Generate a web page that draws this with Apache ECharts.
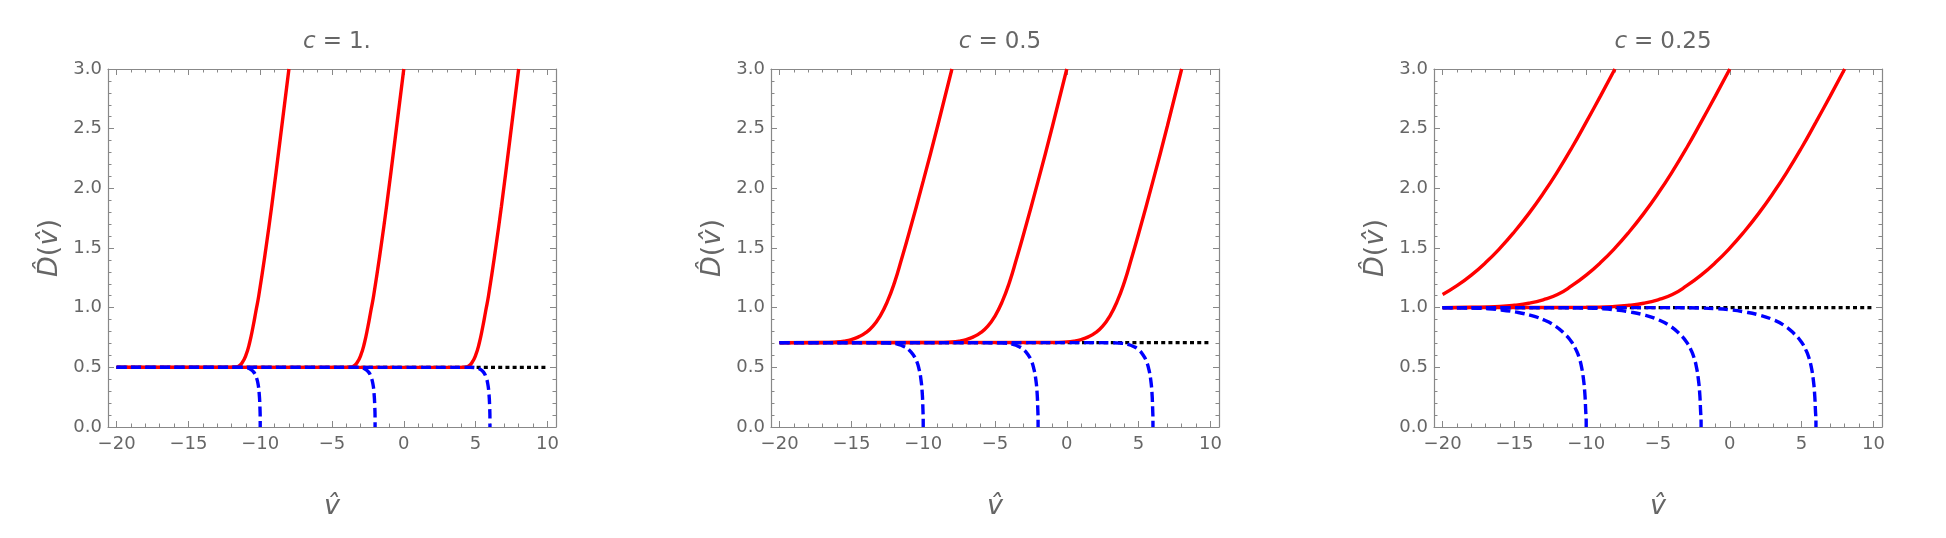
<!DOCTYPE html>
<html>
<head>
<meta charset="utf-8">
<script src="https://cdn.jsdelivr.net/npm/echarts@6/dist/echarts.min.js"></script>
<style>
  html, body { margin: 0; padding: 0; background: #fff; }
  #main { width: 1946px; height: 538px; }
</style>
</head>
<body>
<div id="main"></div>
<script>
// tick values
var xMajor = [-20, -15, -10, -5, 0, 5, 10]
var xMinor = [-20, -19, -18, -17, -16, -15, -14, -13, -12, -11, -10, -9, -8, -7, -6, -5, -4, -3, -2, -1,
  0, 1, 2, 3, 4, 5, 6, 7, 8, 9, 10]
var yMajor = [0, 0.5, 1, 1.5, 2, 2.5, 3]
var yMinor = [0, 0.1, 0.2, 0.3, 0.4, 0.5, 0.6, 0.7, 0.8, 0.9, 1, 1.1, 1.2, 1.3, 1.4, 1.5, 1.6, 1.7, 1.8, 1.9,
  2, 2.1, 2.2, 2.3, 2.4, 2.5, 2.6, 2.7, 2.8, 2.9, 3]

var cLabels = ["1.", "0.5", "0.25"]
var baseLevel = [0.5, 0.707, 1.0]

// c = 1.
var red1A = [[-20, 0.5], [-16, 0.5], [-12.2, 0.5], [-11.8, 0.501], [-11.5, 0.51], [-11.25, 0.54], [-11.0, 0.6], [-10.75, 0.7], [-10.5, 0.84], [-10.3, 0.97], [-10.1, 1.1], [-9.6, 1.5], [-9.2, 1.85], [-8.6, 2.42], [-8, 3.0]]
var red2A = [[-20, 0.5], [-8, 0.5], [-4.2, 0.5], [-3.8, 0.501], [-3.5, 0.51], [-3.25, 0.54], [-3.0, 0.6], [-2.75, 0.7], [-2.5, 0.84], [-2.3, 0.97], [-2.1, 1.1], [-1.6, 1.5], [-1.2, 1.85], [-0.6, 2.42], [0, 3.0]]
var red3A = [[-20, 0.5], [0, 0.5], [3.8, 0.5], [4.2, 0.501], [4.5, 0.51], [4.75, 0.54], [5.0, 0.6], [5.25, 0.7], [5.5, 0.84], [5.7, 0.97], [5.9, 1.1], [6.4, 1.5], [6.8, 1.85], [7.4, 2.42], [8, 3.0]]
var blue1A = [[-20, 0.5], [-14, 0.5], [-11.4, 0.5], [-11.0, 0.497], [-10.7, 0.485], [-10.45, 0.46], [-10.28, 0.42], [-10.15, 0.36], [-10.07, 0.28], [-10.02, 0.17], [-10.0, 0.05], [-10, 0]]
var blue2A = [[-20, 0.5], [-6, 0.5], [-3.4, 0.5], [-3.0, 0.497], [-2.7, 0.485], [-2.45, 0.46], [-2.28, 0.42], [-2.15, 0.36], [-2.07, 0.28], [-2.02, 0.17], [-2.0, 0.05], [-2, 0]]
var blue3A = [[-20, 0.5], [2, 0.5], [4.6, 0.5], [5.0, 0.497], [5.3, 0.485], [5.55, 0.46], [5.72, 0.42], [5.85, 0.36], [5.93, 0.28], [5.98, 0.17], [6.0, 0.05], [6, 0]]

// c = 0.5
var red1B = [[-20, 0.707], [-17, 0.708], [-16, 0.713], [-15.5, 0.72], [-15, 0.733], [-14.5, 0.755], [-14, 0.79], [-13.5, 0.845], [-13, 0.93], [-12.5, 1.05], [-12, 1.21], [-11.5, 1.41], [-11, 1.62], [-10, 2.06], [-9, 2.52], [-8, 3.0]]
var red2B = [[-20, 0.707], [-9, 0.708], [-8, 0.713], [-7.5, 0.72], [-7, 0.733], [-6.5, 0.755], [-6, 0.79], [-5.5, 0.845], [-5, 0.93], [-4.5, 1.05], [-4, 1.21], [-3.5, 1.41], [-3, 1.62], [-2, 2.06], [-1, 2.52], [0, 3.0]]
var red3B = [[-20, 0.707], [-1, 0.708], [0, 0.713], [0.5, 0.72], [1, 0.733], [1.5, 0.755], [2, 0.79], [2.5, 0.845], [3, 0.93], [3.5, 1.05], [4, 1.21], [4.5, 1.41], [5, 1.62], [6, 2.06], [7, 2.52], [8, 3.0]]
var blue1B = [[-20, 0.707], [-14, 0.707], [-13, 0.706], [-12.3, 0.703], [-11.75, 0.693], [-11.3, 0.672], [-11.0, 0.648], [-10.7, 0.605], [-10.45, 0.55], [-10.28, 0.48], [-10.16, 0.4], [-10.07, 0.29], [-10.02, 0.15], [-10, 0.04], [-10, 0]]
var blue2B = [[-20, 0.707], [-6, 0.707], [-5, 0.706], [-4.3, 0.703], [-3.75, 0.693], [-3.3, 0.672], [-3.0, 0.648], [-2.7, 0.605], [-2.45, 0.55], [-2.28, 0.48], [-2.16, 0.4], [-2.07, 0.29], [-2.02, 0.15], [-2, 0.04], [-2, 0]]
var blue3B = [[-20, 0.707], [2, 0.707], [3, 0.706], [3.7, 0.703], [4.25, 0.693], [4.7, 0.672], [5.0, 0.648], [5.3, 0.605], [5.55, 0.55], [5.72, 0.48], [5.84, 0.4], [5.93, 0.29], [5.98, 0.15], [6, 0.04], [6, 0]]

// c = 0.25
var red1C = [[-20, 1.11], [-19, 1.184], [-18, 1.273], [-17, 1.378], [-16, 1.499], [-15, 1.636], [-14, 1.788], [-13, 1.956], [-12, 2.14], [-11, 2.34], [-10, 2.555], [-9, 2.775], [-8, 3.0]]
var red2C = [[-20, 1.0], [-18, 1.003], [-16, 1.01], [-15, 1.02], [-14, 1.037], [-13, 1.066], [-12, 1.11], [-11, 1.184], [-10, 1.273], [-9, 1.378], [-8, 1.499], [-7, 1.636], [-6, 1.788], [-5, 1.956], [-4, 2.14], [-3, 2.34], [-2, 2.555], [-1, 2.775], [0, 3.0]]
var red3C = [[-20, 1.0], [-14, 1.001], [-10, 1.003], [-8, 1.01], [-7, 1.02], [-6, 1.037], [-5, 1.066], [-4, 1.11], [-3, 1.184], [-2, 1.273], [-1, 1.378], [0, 1.499], [1, 1.636], [2, 1.788], [3, 1.956], [4, 2.14], [5, 2.34], [6, 2.555], [7, 2.775], [8, 3.0]]
var blue1C = [[-20, 1.0], [-18, 0.997], [-17, 0.992], [-16, 0.982], [-15, 0.965], [-14, 0.94], [-13, 0.9], [-12.2, 0.85], [-11.5, 0.78], [-11, 0.71], [-10.7, 0.645], [-10.5, 0.585], [-10.32, 0.5], [-10.2, 0.41], [-10.1, 0.29], [-10.04, 0.15], [-10, 0.03], [-10, 0]]
var blue2C = [[-20, 1.0], [-12, 1.0], [-10, 0.997], [-9, 0.992], [-8, 0.982], [-7, 0.965], [-6, 0.94], [-5, 0.9], [-4.2, 0.85], [-3.5, 0.78], [-3, 0.71], [-2.7, 0.645], [-2.5, 0.585], [-2.32, 0.5], [-2.2, 0.41], [-2.1, 0.29], [-2.04, 0.15], [-2, 0.03], [-2, 0]]
var blue3C = [[-20, 1.0], [-4, 1.0], [-2, 0.997], [-1, 0.992], [0, 0.982], [1, 0.965], [2, 0.94], [3, 0.9], [3.8, 0.85], [4.5, 0.78], [5, 0.71], [5.3, 0.645], [5.5, 0.585], [5.68, 0.5], [5.8, 0.41], [5.9, 0.29], [5.96, 0.15], [6, 0.03], [6, 0]]

var redCurves = [[red1A, red2A, red3A], [red1B, red2B, red3B], [red1C, red2C, red3C]]
var blueCurves = [[blue1A, blue2A, blue3A], [blue1B, blue2B, blue3B], [blue1C, blue2C, blue3C]]

var chartDom = document.getElementById("main")
var myChart = echarts.init(chartDom)
var option

var font = "DejaVu Sans"
var frameColor = "#888"
var textColor = "#666"
var gridLefts = [108, 771, 1434]
var gridWidth = 448

function minus(v) {
  return String(v).replace("-", "\u2212")
}

var grids = [], xAxes = [], yAxes = [], titles = [], series = []

for (var i = 0; i < 3; i++) {
  grids.push({ left: gridLefts[i], top: 69, width: gridWidth, height: 358 })
  titles.push({
    text: "{i|c}{op|=}" + cLabels[i],
    left: gridLefts[i] + gridWidth / 2,
    top: 26,
    textAlign: "center",
    textStyle: {
      fontFamily: font, fontSize: 23, fontWeight: "normal", color: textColor,
      rich: {
        i: { fontFamily: font, fontSize: 23, fontStyle: "italic", color: textColor },
        op: { fontFamily: font, fontSize: 23, color: textColor, padding: [0, 7, 0, 7] }
      }
    }
  })

  var xBase = { gridIndex: i, type: "value", min: -20.6, max: 10.6, splitLine: { show: false } }
  // bottom frame, with labels
  xAxes.push(Object.assign({}, xBase, {
    position: "bottom",
    name: "{i|v\u0302}",
    nameLocation: "middle",
    nameGap: 66,
    nameTextStyle: {
      fontFamily: font, fontSize: 27, color: textColor,
      rich: { i: { fontFamily: font, fontSize: 27, fontStyle: "italic", color: textColor } }
    },
    axisLine: { show: true, onZero: false, lineStyle: { color: frameColor, width: 1.2 } },
    axisTick: { show: true, inside: true, length: 6, customValues: xMajor, lineStyle: { color: frameColor, width: 1 } },
    axisLabel: { show: true, customValues: xMajor, margin: 8, fontFamily: font, fontSize: 18, color: textColor, formatter: minus }
  }))
  xAxes.push(Object.assign({}, xBase, {
    position: "bottom",
    axisLine: { show: false, onZero: false },
    axisTick: { show: true, inside: true, length: 3.5, customValues: xMinor, lineStyle: { color: frameColor, width: 1 } },
    axisLabel: { show: false }
  }))
  // top frame
  xAxes.push(Object.assign({}, xBase, {
    position: "top",
    axisLine: { show: true, onZero: false, lineStyle: { color: frameColor, width: 1.2 } },
    axisTick: { show: true, inside: true, length: 6, customValues: xMajor, lineStyle: { color: frameColor, width: 1 } },
    axisLabel: { show: false }
  }))
  xAxes.push(Object.assign({}, xBase, {
    position: "top",
    axisLine: { show: false, onZero: false },
    axisTick: { show: true, inside: true, length: 3.5, customValues: xMinor, lineStyle: { color: frameColor, width: 1 } },
    axisLabel: { show: false }
  }))

  var yBase = { gridIndex: i, type: "value", min: 0, max: 3, splitLine: { show: false } }
  yAxes.push(Object.assign({}, yBase, {
    position: "left",
    name: "{i|D\u0302}({i|v\u0302})",
    nameLocation: "middle",
    nameGap: 45,
    nameRotate: 90,
    nameTextStyle: {
      fontFamily: font, fontSize: 27, color: textColor,
      rich: { i: { fontFamily: font, fontSize: 27, fontStyle: "italic", color: textColor } }
    },
    axisLine: { show: true, onZero: false, lineStyle: { color: frameColor, width: 1.2 } },
    axisTick: { show: true, inside: true, length: 6, customValues: yMajor, lineStyle: { color: frameColor, width: 1 } },
    axisLabel: {
      show: true, customValues: yMajor, margin: 6, fontFamily: font, fontSize: 18, color: textColor,
      formatter: function (v) { return v.toFixed(1) }
    }
  }))
  yAxes.push(Object.assign({}, yBase, {
    position: "left",
    axisLine: { show: false, onZero: false },
    axisTick: { show: true, inside: true, length: 3.5, customValues: yMinor, lineStyle: { color: frameColor, width: 1 } },
    axisLabel: { show: false }
  }))
  yAxes.push(Object.assign({}, yBase, {
    position: "right",
    axisLine: { show: true, onZero: false, lineStyle: { color: frameColor, width: 1.2 } },
    axisTick: { show: true, inside: true, length: 6, customValues: yMajor, lineStyle: { color: frameColor, width: 1 } },
    axisLabel: { show: false }
  }))
  yAxes.push(Object.assign({}, yBase, {
    position: "right",
    axisLine: { show: false, onZero: false },
    axisTick: { show: true, inside: true, length: 3.5, customValues: yMinor, lineStyle: { color: frameColor, width: 1 } },
    axisLabel: { show: false }
  }))

  var ax = i * 4
  series.push({
    type: "line", xAxisIndex: ax, yAxisIndex: ax, showSymbol: false, silent: true,
    data: [[-20, baseLevel[i]], [10, baseLevel[i]]],
    lineStyle: { color: "#000", width: 3.4, type: [4, 3.2] }
  })
  redCurves[i].forEach(function (d) {
    series.push({
      type: "line", xAxisIndex: ax, yAxisIndex: ax, showSymbol: false, silent: true,
      smooth: 0.5, data: d,
      lineStyle: { color: "#ff0000", width: 3.4 }
    })
  })
  blueCurves[i].forEach(function (d) {
    series.push({
      type: "line", xAxisIndex: ax, yAxisIndex: ax, showSymbol: false, silent: true,
      smooth: 0.5, data: d,
      lineStyle: { color: "#0000ff", width: 3.4, type: [10, 4.5] }
    })
  })
}

option = {
  backgroundColor: "#fff",
  animation: false,
  title: titles,
  grid: grids,
  xAxis: xAxes,
  yAxis: yAxes,
  series: series
}

option && myChart.setOption(option)
</script>
</body>
</html>
